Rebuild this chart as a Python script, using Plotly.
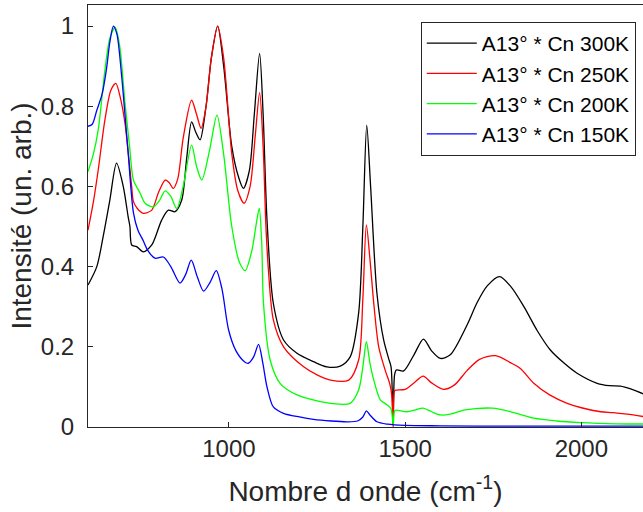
import plotly.graph_objects as go

# ---- data ----
labels = ["A13° * Cn 300K", "A13° * Cn 250K", "A13° * Cn 200K", "A13° * Cn 150K"]
colors = ["#000000", "#ff0000", "#00ff00", "#0000ff"]

x_300 = [600, 625, 643, 662, 681, 700, 714, 719, 724, 738, 757, 781, 809, 828, 847, 866, 880, 894, 906, 918, 935, 950, 968, 985, 1008, 1027, 1041, 1058, 1072, 1087, 1097, 1108, 1126, 1155, 1193, 1240, 1278, 1316, 1344, 1368, 1380, 1391, 1402, 1420, 1439, 1453, 1460, 1466, 1470, 1475, 1496, 1525, 1552, 1575, 1600, 1628, 1676, 1704, 1733, 1768, 1800, 1837, 1875, 1912, 1950, 1988, 2045, 2080, 2111, 2140, 2177]
y_300 = [0.354, 0.40, 0.475, 0.566, 0.658, 0.60, 0.524, 0.50, 0.454, 0.45, 0.437, 0.454, 0.516, 0.541, 0.537, 0.566, 0.67, 0.761, 0.735, 0.716, 0.80, 0.92, 1.0, 0.90, 0.70, 0.624, 0.595, 0.64, 0.78, 0.932, 0.78, 0.516, 0.308, 0.217, 0.184, 0.163, 0.15, 0.152, 0.175, 0.284, 0.50, 0.753, 0.60, 0.333, 0.217, 0.171, 0.15, 0.005, 0.13, 0.142, 0.14, 0.18, 0.219, 0.19, 0.171, 0.18, 0.255, 0.31, 0.352, 0.375, 0.35, 0.30, 0.24, 0.192, 0.16, 0.134, 0.109, 0.103, 0.102, 0.095, 0.082]

x_250 = [600, 615, 629, 648, 665, 679, 692, 705, 724, 729, 740, 757, 781, 800, 819, 830, 842, 855, 870, 894, 908, 921, 935, 950, 968, 985, 1008, 1025, 1043, 1060, 1075, 1087, 1097, 1105, 1112, 1126, 1155, 1212, 1250, 1288, 1340, 1368, 1380, 1390, 1400, 1411, 1425, 1444, 1456, 1462, 1466, 1470, 1475, 1500, 1525, 1551, 1575, 1609, 1640, 1675, 1710, 1756, 1800, 1827, 1865, 1910, 1960, 2000, 2055, 2090, 2130, 2177]
y_250 = [0.491, 0.56, 0.641, 0.766, 0.84, 0.857, 0.82, 0.757, 0.599, 0.562, 0.545, 0.533, 0.541, 0.585, 0.616, 0.61, 0.595, 0.62, 0.72, 0.815, 0.78, 0.745, 0.80, 0.92, 1.0, 0.92, 0.682, 0.59, 0.558, 0.60, 0.73, 0.834, 0.70, 0.50, 0.392, 0.267, 0.20, 0.15, 0.13, 0.117, 0.117, 0.167, 0.32, 0.504, 0.42, 0.308, 0.20, 0.14, 0.109, 0.08, 0.0, 0.09, 0.092, 0.094, 0.11, 0.127, 0.11, 0.094, 0.105, 0.14, 0.168, 0.178, 0.16, 0.146, 0.109, 0.08, 0.059, 0.048, 0.038, 0.036, 0.032, 0.026]

x_200 = [600, 615, 629, 648, 662, 677, 690, 705, 718, 729, 748, 762, 786, 803, 819, 835, 852, 870, 894, 908, 923, 945, 966, 985, 1008, 1030, 1046, 1065, 1078, 1086, 1093, 1098, 1117, 1145, 1193, 1250, 1288, 1344, 1368, 1380, 1390, 1400, 1411, 1430, 1449, 1460, 1466, 1470, 1475, 1505, 1530, 1551, 1575, 1600, 1628, 1666, 1700, 1747, 1800, 1865, 1930, 1998, 2100, 2177]
y_200 = [0.637, 0.68, 0.741, 0.89, 0.97, 0.997, 0.95, 0.808, 0.70, 0.616, 0.583, 0.558, 0.549, 0.565, 0.589, 0.575, 0.545, 0.60, 0.703, 0.65, 0.616, 0.69, 0.778, 0.68, 0.50, 0.41, 0.39, 0.44, 0.51, 0.545, 0.46, 0.308, 0.167, 0.109, 0.08, 0.065, 0.059, 0.059, 0.092, 0.15, 0.213, 0.16, 0.117, 0.067, 0.055, 0.045, 0.005, 0.04, 0.042, 0.038, 0.043, 0.047, 0.038, 0.03, 0.032, 0.042, 0.046, 0.047, 0.038, 0.022, 0.015, 0.011, 0.008, 0.0075]

x_150 = [600, 612, 625, 640, 652, 662, 672, 682, 695, 714, 729, 742, 756, 770, 790, 814, 835, 861, 877, 893, 910, 928, 946, 964, 980, 999, 1020, 1044, 1055, 1070, 1084, 1096, 1108, 1126, 1155, 1200, 1240, 1290, 1335, 1365, 1380, 1390, 1400, 1420, 1450, 1500, 1600, 1800, 2000, 2177]
y_150 = [0.75, 0.755, 0.79, 0.83, 0.89, 0.96, 1.0, 0.98, 0.88, 0.683, 0.534, 0.49, 0.466, 0.44, 0.421, 0.424, 0.40, 0.359, 0.38, 0.416, 0.375, 0.339, 0.36, 0.39, 0.345, 0.242, 0.19, 0.163, 0.159, 0.175, 0.206, 0.16, 0.10, 0.05, 0.034, 0.025, 0.019, 0.015, 0.013, 0.015, 0.025, 0.04, 0.03, 0.013, 0.007, 0.004, 0.003, 0.002, 0.002, 0.002]

x_ticks = [1000, 1500, 2000]
y_ticks = [0, 0.2, 0.4, 0.6, 0.8, 1]
y_ticklabels = ["0", "0.2", "0.4", "0.6", "0.8", "1"]

series = [(x_300, y_300), (x_250, y_250), (x_200, y_200), (x_150, y_150)]

FONT = "Liberation Sans, Arial, sans-serif"
TXT = "#262626"

fig = go.Figure()
for (xs, ys), name, c in zip(series, labels, colors):
    fig.add_trace(go.Scatter(x=xs, y=ys, mode="lines", name=name,
                             line=dict(color=c, width=1.3, shape="spline", smoothing=0.8)))

fig.update_layout(
    width=643, height=512,
    margin=dict(l=88, r=0, t=5, b=85, autoexpand=False),
    paper_bgcolor="white", plot_bgcolor="white",
    font=dict(family=FONT, color=TXT, size=22),
    showlegend=True,
    legend=dict(x=0.987, y=0.96, xanchor="right", yanchor="top",
                bgcolor="white", bordercolor=TXT, borderwidth=1,
                font=dict(family=FONT, size=21, color="#000000"),
                itemwidth=50, tracegroupgap=0),
    xaxis=dict(range=[600, 2175], tickvals=x_ticks, ticks="inside", ticklen=5,
               tickcolor=TXT, showline=True, linecolor=TXT, linewidth=1, mirror=True,
               showgrid=False, zeroline=False, ticklabelstandoff=0, automargin=False,
               tickfont=dict(size=24, color=TXT),
               title=dict(text="Nombre d onde (cm<sup>-1</sup>)", font=dict(size=28, color=TXT), standoff=20)),
    yaxis=dict(range=[0, 1.0525], tickvals=y_ticks, ticktext=y_ticklabels, ticks="inside", ticklen=5,
               tickcolor=TXT, showline=True, linecolor=TXT, linewidth=1,
               showgrid=False, zeroline=False, ticklabelstandoff=8, automargin=False,
               tickfont=dict(size=24, color=TXT),
               title=dict(text="Intensité (un. arb.)", font=dict(size=28, color=TXT), standoff=1)),
)

fig.write_html("out.html", config={"displayModeBar": False},
               post_script="document.body.style.margin='0';")
